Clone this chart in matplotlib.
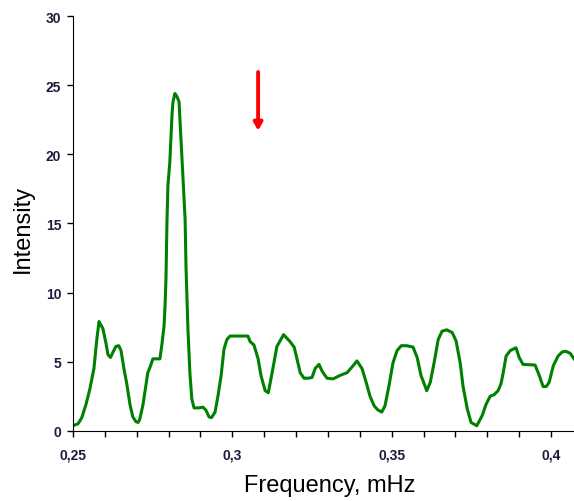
import numpy as np
from matplotlib import pyplot as plt
from matplotlib.ticker import FuncFormatter, MultipleLocator

plt.rcParams["font.family"] = ["Liberation Sans", "DejaVu Sans"]

# spectrum
frequency = [
    0.2500, 0.2516, 0.2528, 0.2541, 0.2553, 0.2566, 0.2575, 0.2582, 0.2594, 0.2604,
    0.2610, 0.2618, 0.2626, 0.2635, 0.2644, 0.2651, 0.2660, 0.2669, 0.2679, 0.2688,
    0.2698, 0.2705, 0.2710, 0.2720, 0.2735, 0.2742, 0.2751, 0.2773, 0.2779, 0.2786,
    0.2789, 0.2792, 0.2795, 0.2798, 0.2804, 0.2811, 0.2814, 0.2820, 0.2826, 0.2833,
    0.2839, 0.2845, 0.2852, 0.2855, 0.2861, 0.2867, 0.2873, 0.2880, 0.2892, 0.2908,
    0.2917, 0.2927, 0.2935, 0.2946, 0.2955, 0.2965, 0.2974, 0.2983, 0.2993, 0.3015,
    0.3049, 0.3056, 0.3068, 0.3081, 0.3090, 0.3103, 0.3113, 0.3125, 0.3140, 0.3161,
    0.3181, 0.3194, 0.3203, 0.3213, 0.3225, 0.3238, 0.3250, 0.3260, 0.3272, 0.3282,
    0.3297, 0.3316, 0.3338, 0.3360, 0.3379, 0.3391, 0.3407, 0.3420, 0.3432, 0.3445,
    0.3457, 0.3469, 0.3479, 0.3492, 0.3504, 0.3517, 0.3530, 0.3548, 0.3567, 0.3580,
    0.3592, 0.3610, 0.3621, 0.3633, 0.3646, 0.3658, 0.3673, 0.3690, 0.3702, 0.3715,
    0.3724, 0.3737, 0.3749, 0.3767, 0.3784, 0.3796, 0.3809, 0.3821, 0.3834, 0.3843,
    0.3850, 0.3859, 0.3872, 0.3881, 0.3890, 0.3900, 0.3912, 0.3950, 0.3963, 0.3975,
    0.3985, 0.3994, 0.4007, 0.4022, 0.4035, 0.4046, 0.4060, 0.4072,
]
intensity = [
    0.36, 0.50, 0.95, 1.9, 3.0, 4.5, 6.6, 7.9, 7.4, 6.3,
    5.5, 5.3, 5.7, 6.1, 6.15, 5.8, 4.5, 3.4, 1.9, 1.0,
    0.65, 0.6, 0.85, 1.9, 4.2, 4.6, 5.2, 5.2, 6.2, 7.6,
    9.0, 11.0, 15.0, 17.7, 19.4, 22.9, 23.8, 24.4, 24.2, 23.8,
    21.1, 18.4, 15.3, 11.7, 7.3, 4.2, 2.3, 1.65, 1.65, 1.7,
    1.5, 1.0, 0.95, 1.35, 2.5, 4.0, 5.9, 6.6, 6.85, 6.85,
    6.85, 6.45, 6.2, 5.2, 4.0, 2.9, 2.75, 4.2, 6.1, 6.95,
    6.45, 6.05, 5.2, 4.2, 3.8, 3.8, 3.85, 4.5, 4.8, 4.3,
    3.8, 3.75, 4.0, 4.2, 4.7, 5.05, 4.5, 3.5, 2.5, 1.8,
    1.5, 1.35, 1.8, 3.3, 4.9, 5.8, 6.15, 6.15, 6.05, 5.3,
    4.0, 2.9, 3.5, 4.9, 6.6, 7.2, 7.3, 7.1, 6.5, 4.9,
    3.2, 1.6, 0.6, 0.36, 1.1, 1.9, 2.5, 2.6, 2.9, 3.4,
    4.2, 5.4, 5.8, 5.9, 6.0, 5.3, 4.8, 4.75, 4.0, 3.2,
    3.2, 3.5, 4.7, 5.4, 5.7, 5.75, 5.6, 5.2,
]

arrow_x = 0.3081
arrow_top = 25.95
arrow_tip = 21.7

fig = plt.figure(figsize=(5.74, 5.02), dpi=100)
ax = fig.add_axes([0.127, 0.140, 0.873, 0.826])

ax.plot(frequency, intensity, color="#008000", linewidth=2.2)

ax.annotate(
    "",
    xy=(arrow_x, arrow_tip),
    xytext=(arrow_x, arrow_top),
    arrowprops=dict(
        arrowstyle="-|>,head_length=0.45,head_width=0.25",
        color="#ff0000",
        linewidth=2.8,
        shrinkA=0,
        shrinkB=0,
    ),
)

ax.set_xlim(0.25, 0.4072)
ax.set_ylim(0, 30)

ax.spines["top"].set_visible(False)
ax.spines["right"].set_visible(False)

ax.xaxis.set_major_locator(MultipleLocator(0.05))
ax.xaxis.set_minor_locator(MultipleLocator(0.01))
ax.yaxis.set_major_locator(MultipleLocator(5))
ax.xaxis.set_major_formatter(FuncFormatter(lambda v, _: f"{v:g}".replace(".", ",")))
ax.yaxis.set_major_formatter(FuncFormatter(lambda v, _: f"{v:g}"))

ax.tick_params(axis="both", which="both", direction="out", length=4.3, width=1)
ax.tick_params(axis="x", which="major", pad=8)
ax.tick_params(axis="y", pad=4)
for lab in ax.get_xticklabels() + ax.get_yticklabels():
    lab.set_fontweight("bold")
    lab.set_fontsize(10)
    lab.set_color("#1c1c3c")

ax.set_xlabel("Frequency, mHz", fontsize=17)
ax.set_ylabel("Intensity", fontsize=17)
ax.xaxis.set_label_coords(0.513, -0.105)
ax.yaxis.set_label_coords(-0.078, 0.489)

fig.savefig("out.png", dpi=100)
